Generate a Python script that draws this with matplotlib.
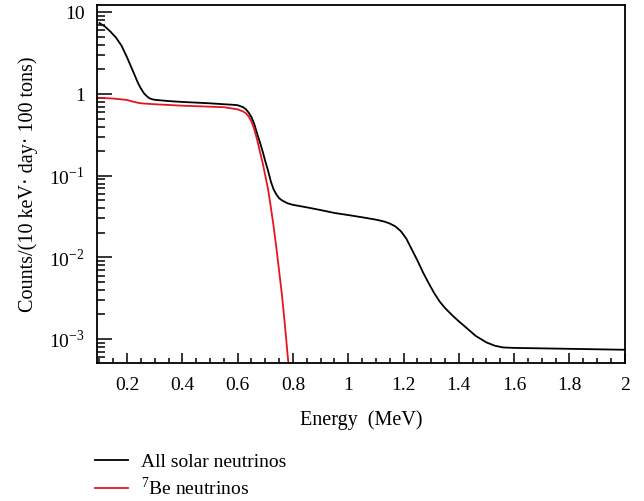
import matplotlib
matplotlib.use("Agg")
import matplotlib.pyplot as plt
from matplotlib.ticker import FixedLocator, FixedFormatter, MultipleLocator, LogLocator, NullFormatter

plt.rcParams['font.family'] = ['Liberation Serif', 'DejaVu Serif']
plt.rcParams['mathtext.fontset'] = 'custom'
plt.rcParams['mathtext.rm'] = 'Liberation Serif'

# All solar neutrinos
all_x = [0.10, 0.12, 0.14, 0.16, 0.18, 0.20, 0.22, 0.24, 0.25, 0.26, 0.27, 0.28, 0.29, 0.30,
         0.35, 0.40, 0.45, 0.50, 0.55, 0.58, 0.60, 0.62, 0.63, 0.64, 0.65, 0.66, 0.67, 0.68,
         0.69, 0.70, 0.71, 0.72, 0.73, 0.74, 0.75, 0.76, 0.78, 0.80, 0.85, 0.90, 0.95, 1.00,
         1.05, 1.10, 1.13, 1.15, 1.17, 1.19, 1.21, 1.23, 1.25, 1.27, 1.29, 1.31, 1.33, 1.35,
         1.38, 1.40, 1.43, 1.46, 1.50, 1.53, 1.56, 1.60, 1.70, 1.80, 1.90, 2.00]
all_y = [7.4, 6.7, 5.8, 4.9, 3.9, 2.8, 1.95, 1.35, 1.17, 1.03, 0.95, 0.89, 0.865, 0.85,
         0.82, 0.80, 0.785, 0.77, 0.75, 0.74, 0.73, 0.69, 0.65, 0.59, 0.52, 0.43, 0.33, 0.26,
         0.20, 0.15, 0.115, 0.085, 0.068, 0.059, 0.053, 0.050, 0.046, 0.044, 0.041, 0.038, 0.035, 0.033,
         0.031, 0.029, 0.0275, 0.026, 0.024, 0.021, 0.017, 0.0125, 0.0092, 0.0066, 0.0049, 0.0037, 0.0029, 0.0024,
         0.0019, 0.00165, 0.00135, 0.0011, 0.00091, 0.00083, 0.00079, 0.00078, 0.00077, 0.00076, 0.00075, 0.00074]

# 7Be neutrinos
be_x = [0.10, 0.15, 0.18, 0.20, 0.22, 0.24, 0.26, 0.30, 0.40, 0.50, 0.55, 0.60, 0.62, 0.63,
        0.64, 0.65, 0.66, 0.67, 0.68, 0.69, 0.70, 0.71, 0.72, 0.73, 0.74, 0.75, 0.76, 0.77,
        0.78, 0.785]
be_y = [0.90, 0.88, 0.86, 0.845, 0.81, 0.78, 0.765, 0.75, 0.72, 0.70, 0.69, 0.65, 0.61, 0.58,
        0.53, 0.46, 0.37, 0.28, 0.20, 0.145, 0.10, 0.068, 0.041, 0.024, 0.013, 0.0068, 0.0035, 0.0016,
        0.00068, 0.00045]

fig = plt.figure(figsize=(6.44, 5.01), dpi=100)
ax = fig.add_axes([0.151, 0.2755, 0.819, 0.7145])

l1, = ax.plot(all_x, all_y, color='black', lw=1.3, label='All solar neutrinos')
l2, = ax.plot(be_x, be_y, color='#e8141c', lw=1.3, label=r'$^{7}$Be neutrinos')

ax.set_yscale('log')
ax.set_xlim(0.092, 2.0)
ax.set_ylim(5.1e-4, 12.3)

ax.xaxis.set_major_locator(FixedLocator([0.2, 0.4, 0.6, 0.8, 1.0, 1.2, 1.4, 1.6, 1.8, 2.0]))
ax.xaxis.set_major_formatter(FixedFormatter(['0.2', '0.4', '0.6', '0.8', '1', '1.2', '1.4', '1.6', '1.8', '2']))
ax.xaxis.set_minor_locator(MultipleLocator(0.05))

ax.yaxis.set_major_locator(FixedLocator([1e-3, 1e-2, 1e-1, 1, 10]))
ax.yaxis.set_major_formatter(FixedFormatter([r'$10^{-3}$', r'$10^{-2}$', r'$10^{-1}$', '1', '10']))
ax.yaxis.set_minor_locator(LogLocator(base=10, subs=range(2, 10), numticks=20))
ax.yaxis.set_minor_formatter(NullFormatter())

ax.tick_params(which='both', direction='in', top=False, right=False, labelsize=14, width=1.1)
ax.tick_params(axis='x', which='major', length=7.5, pad=10)
ax.tick_params(axis='x', which='minor', length=3.8)
ax.tick_params(axis='y', which='major', length=11, pad=9)
ax.tick_params(axis='y', which='minor', length=5.5)
for s in ax.spines.values():
    s.set_linewidth(1.3)

ax.set_xlabel('Energy  (MeV)', fontsize=14.5, labelpad=12)
ax.set_ylabel('Counts/(10 keV\u00b7 day\u00b7 100 tons)', fontsize=14.5, labelpad=8)

fig.legend(handles=[l1, l2], loc='upper left', bbox_to_anchor=(0.147, 0.096),
           frameon=False, fontsize=14, handlelength=1.7, handletextpad=0.7,
           labelspacing=0.3, borderaxespad=0, borderpad=0)

fig.savefig('out.png', dpi=100)
